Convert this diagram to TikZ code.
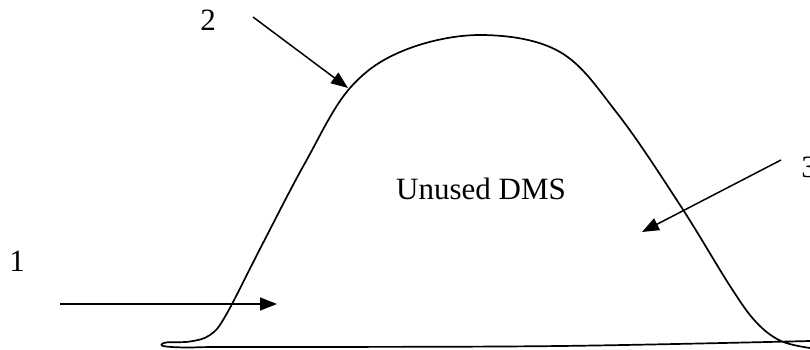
\documentclass[tikz,border=0pt]{standalone}
\usepackage{fontspec}
\setmainfont{Liberation Serif}
\usetikzlibrary{arrows.meta}
\tikzset{
  cimke/.style={inner sep=0pt,font=\fontsize{31}{37}\selectfont},
  nyil/.style={-{Triangle[length=17pt,width=13pt]},line width=1.5pt},
  hump/.style={line width=1.7pt,line join=round},
}
\begin{document}
\begin{tikzpicture}[x=1pt,y=-1pt]
  \useasboundingbox (0,0) rectangle (810,350);
  % the curve with its bottom line
  \draw[hump] plot[smooth,tension=0.6] coordinates {(810,341) (560,346) (300,347) (215,347)
    (185,347.5) (163,346) (166,342.5) (190,341.5) (210,335) (226,315) (262,245) (305,163)
    (350,88) (405,50) (482,35) (560,52) (617,113) (680,205) (730,286) (756,322) (781,341)
    (810,348)};
  \node[cimke] (area) at (481,189) {Unused DMS};
  \node[cimke] (lab1) at (17,261) {1};
  \node[cimke] (lab2) at (208,20) {2};
  \node[cimke] (lab3) at (809,167) {3};
  \coordinate (s1) at (60,304);  \coordinate (e1) at (277,304);
  \coordinate (s2) at (253,17);  \coordinate (e2) at (348,88);
  \coordinate (s3) at (781,160); \coordinate (e3) at (642,232);
  \draw[nyil] (s1) -- (e1);
  \draw[nyil] (s2) -- (e2);
  \draw[nyil] (s3) -- (e3);
\end{tikzpicture}
\end{document}
